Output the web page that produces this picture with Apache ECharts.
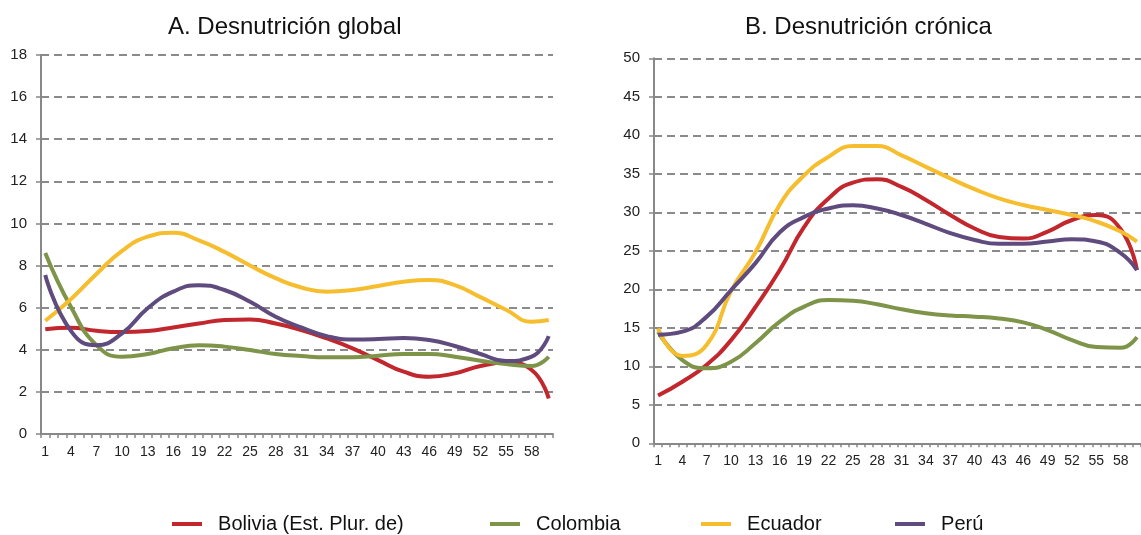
<!DOCTYPE html>
<html><head><meta charset="utf-8">
<script src="https://cdn.jsdelivr.net/npm/echarts@6/dist/echarts.min.js"></script>
<style>html,body{margin:0;padding:0;background:#fff}#c{width:1141px;height:535px}</style>
</head><body><div id="c"></div><script>
// x categories (1..60)
const categories = ['1','2','3','4','5','6','7','8','9','10','11','12','13','14','15','16','17','18','19','20',
  '21','22','23','24','25','26','27','28','29','30','31','32','33','34','35','36','37','38','39','40',
  '41','42','43','44','45','46','47','48','49','50','51','52','53','54','55','56','57','58','59','60'];
const sampleCats = [1,4,7,10,13,16,19,22,25,28,31,34,37,40,43,46,49,52,55,58,60];

const seriesNames = ['Bolivia (Est. Plur. de)','Colombia','Ecuador','Perú'];
const seriesColors = ['#C1272D','#7E9449','#F6BE2E','#5F4B7E'];

// A. Desnutrición global
const bolA = [4.98,5.05,4.9,4.84,4.89,5.06,5.25,5.41,5.44,5.25,4.94,4.54,4.07,3.51,2.96,2.72,2.88,3.23,3.39,3.04,1.69];
const colA = [8.6,6.04,4.22,3.67,3.8,4.07,4.21,4.15,3.99,3.8,3.7,3.64,3.64,3.72,3.8,3.8,3.67,3.48,3.32,3.23,3.67];
const ecuA = [5.38,6.4,7.6,8.7,9.37,9.56,9.2,8.65,8.0,7.4,6.96,6.76,6.84,7.03,7.23,7.31,7.07,6.5,5.9,5.33,5.41];
const perA = [7.55,4.9,4.22,4.78,5.97,6.76,7.07,6.84,6.28,5.57,5.06,4.65,4.49,4.51,4.56,4.46,4.18,3.8,3.47,3.67,4.65];
// B. Desnutrición crónica
const bolB = [6.2,8.0,10.2,13.4,17.7,22.5,28.1,31.8,33.85,34.3,33.3,31.6,29.65,27.9,26.8,26.6,27.5,29.0,29.65,27.8,22.5];
const colB = [14.5,10.8,9.74,10.6,13.0,15.8,17.75,18.6,18.5,18.05,17.4,16.9,16.6,16.45,16.2,15.7,14.7,13.4,12.5,12.4,13.8];
const ecuB = [14.9,11.34,12.8,19.8,24.8,31.0,34.8,37.2,38.6,38.6,37.4,35.9,34.4,33.0,31.8,30.95,30.3,29.65,28.8,27.5,26.2];
const perB = [14.1,14.5,16.45,19.9,23.4,27.4,29.4,30.5,30.9,30.5,29.65,28.5,27.3,26.4,25.9,25.9,26.2,26.5,26.2,24.7,22.5];

const titleA = 'A. Desnutrición global';
const titleB = 'B. Desnutrición crónica';

function pairs(vals){ return sampleCats.map((c,i)=>[c, vals[i]]); }

const FONT = 'Liberation Sans, Arial, sans-serif';
const gridLine = {show:true, lineStyle:{color:'#8a8a8a', width:1.8, type:[8,5]}};
function xAx(gi){
  return {type:'category', gridIndex:gi, data:categories, boundaryGap:true,
    axisLine:{show:true, lineStyle:{color:'#888', width:2}},
    axisTick:{show:true, interval:0, length:4, lineStyle:{color:'#888', width:1.5}},
    axisLabel:{interval:2, margin:11, color:'#222', fontSize:14, fontFamily:FONT},
    splitLine:{show:false}};
}
// hidden numeric axis aligned with category centres (category n at n)
function xVal(gi){
  return {type:'value', gridIndex:gi, min:0.5, max:60.5, show:false,
    axisLine:{show:false}, axisTick:{show:false}, axisLabel:{show:false}, splitLine:{show:false}};
}
function yAx(gi,max,step){
  return {type:'value', gridIndex:gi, min:0, max:max, interval:step,
    axisLine:{show:true, lineStyle:{color:'#888', width:2}},
    axisTick:{show:true, length:5, lineStyle:{color:'#888', width:1.5}},
    axisLabel:{margin:14, color:'#222', fontSize:15, fontFamily:FONT},
    splitLine:gridLine};
}
function ser(name, color, data, gi){
  return {type:'line', name:name, xAxisIndex:gi+2, yAxisIndex:gi, data:pairs(data),
    smooth:0.5, showSymbol:false, symbol:'none', color:color,
    lineStyle:{width:4, color:color}, itemStyle:{color:color}};
}
const dataA = [bolA,colA,ecuA,perA];
const dataB = [bolB,colB,ecuB,perB];
const series = [];
seriesNames.forEach((n,i)=>series.push(ser(n, seriesColors[i], dataA[i], 0)));
seriesNames.forEach((n,i)=>series.push(ser(n, seriesColors[i], dataB[i], 1)));

const legendLefts = [172,490,701,895];
const legends = seriesNames.map((n,i)=>({
  data:[n], left:legendLefts[i], top:514, padding:0, icon:'rect', itemWidth:30, itemHeight:4,
  formatter:(s)=>'  '+s, textStyle:{fontSize:20, color:'#111', fontFamily:FONT}
}));

const chart = echarts.init(document.getElementById('c'), null, {renderer:'canvas'});
chart.setOption({
  animation:false,
  backgroundColor:'#fff',
  title:[
    {text:titleA, left:168, top:15, padding:0, textStyle:{fontSize:24, fontWeight:'normal', color:'#111', fontFamily:FONT}},
    {text:titleB, left:745, top:15, padding:0, textStyle:{fontSize:24, fontWeight:'normal', color:'#111', fontFamily:FONT}}
  ],
  legend:legends,
  grid:[
    {left:41, top:55, width:512, height:379},
    {left:654, top:58.3, width:496.5, height:385}
  ],
  xAxis:[xAx(0), xAx(1), xVal(0), xVal(1)],
  yAxis:[yAx(0,18,2), yAx(1,50,5)],
  series:series
});
</script></body></html>
